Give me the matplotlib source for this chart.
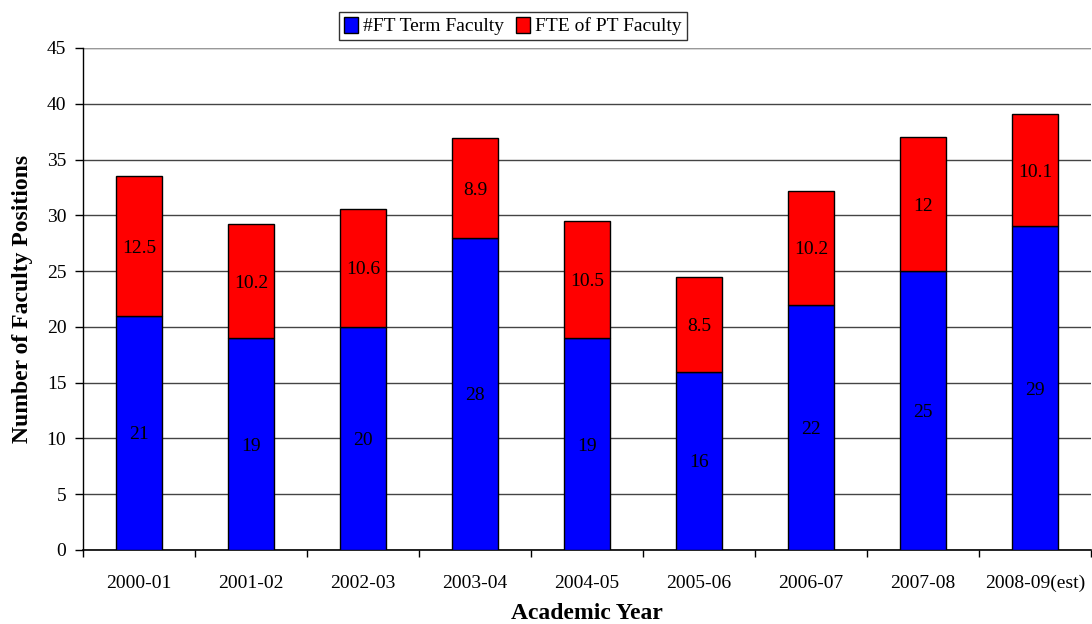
import matplotlib
matplotlib.use("Agg")
import matplotlib.pyplot as plt
import numpy as np

years = ["2000-01", "2001-02", "2002-03", "2003-04", "2004-05", "2005-06", "2006-07", "2007-08", "2008-09(est)"]
ft_term = [21, 19, 20, 28, 19, 16, 22, 25, 29]
pt_fte = [12.5, 10.2, 10.6, 8.9, 10.5, 8.5, 10.2, 12, 10.1]
series_names = ["#FT Term Faculty", "FTE of PT Faculty"]

plt.rcParams['font.family'] = ['Liberation Serif', 'DejaVu Serif']

fig = plt.figure(figsize=(10.92, 6.24), dpi=100)
ax = fig.add_axes([83/1092, 1 - 550/624, (1091-83)/1092, (550-48)/624])

x = np.arange(len(years))
w = 0.41
b1 = ax.bar(x, ft_term, width=w, color="#0000FF", edgecolor="black", linewidth=1.0, zorder=3, label=series_names[0])
b2 = ax.bar(x, pt_fte, width=w, bottom=ft_term, color="#FF0000", edgecolor="black", linewidth=1.0, zorder=3, label=series_names[1])

for i in range(len(years)):
    ax.text(x[i], ft_term[i] / 2, f"{ft_term[i]:g}", ha="center", va="center_baseline", fontsize=14, zorder=4)
    ax.text(x[i], ft_term[i] + pt_fte[i] / 2, f"{pt_fte[i]:g}", ha="center", va="center_baseline", fontsize=14, zorder=4)

ax.set_xlim(-0.5, len(years) - 0.5)
ax.set_ylim(0, 45)
ax.set_yticks(np.arange(0, 46, 5))
ax.set_xticks(x)
ax.set_xticklabels(years, fontsize=14)
ax.tick_params(axis='x', length=0, pad=18)
ax.set_xticks(np.arange(-0.5, len(years)), minor=True)
ax.tick_params(axis='x', which='minor', length=5, direction='out', width=1)
ax.tick_params(axis='y', labelsize=14, length=6, direction='out', width=1, pad=6)

ax.yaxis.grid(True, color="#444444", linewidth=1.0, zorder=0)
ax.set_axisbelow(True)
for s in ["top", "right"]:
    ax.spines[s].set_visible(False)
ax.spines["left"].set_linewidth(1.0)
ax.spines["bottom"].set_linewidth(1.2)
ax.axhline(45, color="#999999", linewidth=1.5, zorder=1)

ax.set_xlabel("Academic Year", fontsize=17, fontweight="bold", va="baseline")
ax.xaxis.set_label_coords(0.5, -(619 - 550) / 502)
ax.set_ylabel("Number of Faculty Positions", fontsize=17, fontweight="bold", labelpad=10)

leg = fig.legend(handles=[b1, b2], labels=series_names, loc="center",
                 bbox_to_anchor=(513/1092, 1 - 26/624), ncol=2, fontsize=14,
                 frameon=True, fancybox=False, edgecolor="black", handlelength=0.7,
                 handleheight=0.9, handletextpad=0.3, columnspacing=0.6,
                 borderpad=0.25, borderaxespad=0)
leg.get_frame().set_linewidth(1.0)

fig.savefig("out.png", dpi=100)
